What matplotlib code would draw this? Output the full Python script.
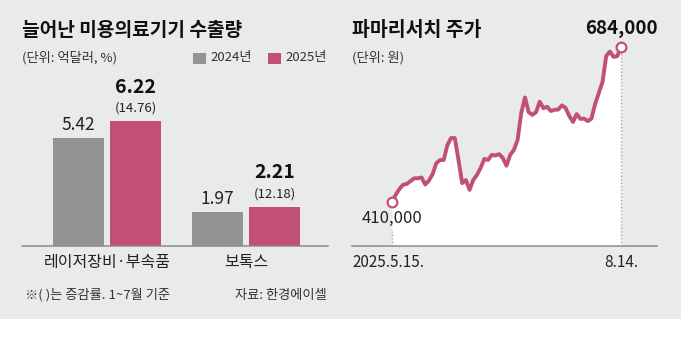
import matplotlib
matplotlib.use('Agg')
import matplotlib.pyplot as plt
from matplotlib.patches import Rectangle
import matplotlib.transforms as mtransforms
import numpy as np

plt.rcParams['font.family'] = ['Noto Sans CJK KR', 'DejaVu Sans']

# bar chart data
categories = ['레이저장비·부속품', '보톡스']
exports_2024 = [5.42, 1.97]
exports_2025 = [6.22, 2.21]
growth_2025 = ['(14.76)', '(12.18)']
legend_labels = ['2024년', '2025년']

# stock price data (daily close, 2025.5.15 ~ 8.14)
price = [410000, 422000, 432500, 440000, 441500, 446500, 451500, 451500, 453000, 440500,
         447500, 459000, 478500, 484000, 484000, 510500, 523000, 523000, 484000, 443000,
         448500, 431000, 448500, 457500, 470000, 486000, 484000, 493000, 492000, 494500,
         487500, 474000, 493000, 502000, 519500, 567500, 595000, 569000, 564000, 569000,
         587500, 576000, 578500, 571000, 573000, 573500, 581000, 576500, 562000, 551500,
         565500, 557000, 557500, 553000, 557500, 583500, 603000, 622500, 668500, 676500,
         667000, 668500, 684000]
date_labels = ['2025.5.15.', '8.14.']

W, H = 681, 351
BG = '#e9eaea'
GRAY = '#939393'
PINK = '#c24f78'
TXT = '#222222'
AXC = '#8c8c8c'

def fx(px):
    return px / W

def fy(py):
    return 1 - py / H

fig = plt.figure(figsize=(W / 100, H / 100), dpi=100, facecolor='white')
fig.patches.append(Rectangle((0, fy(319)), 1, 1 - fy(319), transform=fig.transFigure,
                             facecolor=BG, edgecolor='none', zorder=-10))

# ---------- left: bar chart ----------
base = 245.7
ax1 = fig.add_axes([fx(22), fy(base), fx(306), (base - 70) / H])
ax1.set_facecolor('none')
x = np.arange(len(categories))
bw = 0.367
off = 0.205
b1 = ax1.bar(x - off, exports_2024, bw, color=GRAY, zorder=2)
b2 = ax1.bar(x + off, exports_2025, bw, color=PINK, zorder=2)
ax1.set_xlim(-0.612, 1.59)
ax1.set_ylim(0.376, 8.625)
for s in ['top', 'right', 'left']:
    ax1.spines[s].set_visible(False)
ax1.spines['bottom'].set_color(AXC)
ax1.spines['bottom'].set_linewidth(1.1)
ax1.set_xticks([])
ax1.set_yticks([])

for i in range(len(categories)):
    ax1.annotate(f'{exports_2024[i]:.2f}', (x[i] - off, exports_2024[i]), xytext=(0, 13),
                 textcoords='offset pixels', ha='center', va='center', fontsize=12.5, color=TXT)
    ax1.annotate(f'{exports_2025[i]:.2f}', (x[i] + off, exports_2025[i]), xytext=(0, 34),
                 textcoords='offset pixels', ha='center', va='center', fontsize=14,
                 fontweight='bold', color='#111111')
    ax1.annotate(growth_2025[i], (x[i] + off, exports_2025[i]), xytext=(0, 13),
                 textcoords='offset pixels', ha='center', va='center', fontsize=9.5, color=TXT)
    ax1.annotate(categories[i], (x[i], 0.376), xytext=(0, -17), textcoords='offset pixels',
                 ha='center', va='center', fontsize=11.5, color=TXT)

fig.text(fx(22), fy(31), '늘어난 미용의료기기 수출량', fontsize=13.8, fontweight='bold',
         color='#111111', va='center', ha='left')
fig.text(fx(22), fy(58), '(단위: 억달러, %)', fontsize=9.5, color='#333333', va='center', ha='left')
for lx, c, lab in [(193, GRAY, legend_labels[0]), (268, PINK, legend_labels[1])]:
    fig.patches.append(Rectangle((fx(lx), fy(64)), fx(13), 11 / H, transform=fig.transFigure,
                                 facecolor=c, edgecolor='none'))
    fig.text(fx(lx + 17), fy(58), lab, fontsize=9.5, color='#333333', va='center', ha='left')
fig.text(fx(25), fy(295), '※( )는 증감률. 1~7월 기준', fontsize=9.5, color='#333333',
         va='center', ha='left')
fig.text(fx(327), fy(295), '자료: 한경에이셀', fontsize=9.5, color='#333333',
         va='center', ha='right')

# ---------- right: stock line ----------
ax2 = fig.add_axes([fx(352), fy(base), fx(305), (base - 20) / H])
ax2.set_facecolor('none')
t = np.arange(len(price))
ymin = 331900
ax2.fill_between(t, price, ymin, color='white', zorder=1, linewidth=0)
ax2.plot(t, price, color=PINK, linewidth=2.8, zorder=3, solid_joinstyle='round')
ax2.set_xlim(-10.83, 71.75)
ax2.set_ylim(ymin, 732500)
for s in ['top', 'right', 'left']:
    ax2.spines[s].set_visible(False)
ax2.spines['bottom'].set_color(AXC)
ax2.spines['bottom'].set_linewidth(1.1)
ax2.set_xticks([])
ax2.set_yticks([])

ax2.vlines(t[0], ymin, 358000, colors='#a8a8a8', linestyles=(0, (1, 1.5)), linewidth=1, zorder=2)
ax2.vlines(t[-1], ymin, price[-1], colors='#a8a8a8', linestyles=(0, (1, 1.5)), linewidth=1, zorder=2)
ax2.plot([t[0], t[-1]], [price[0], price[-1]], 'o', ms=7, mfc='white', mec=PINK, mew=1.6,
         zorder=4, linestyle='none')

ax2.annotate(f'{price[0]:,}', (t[0], price[0]), xytext=(0, -17), textcoords='offset pixels',
             ha='center', va='center', fontsize=12, color=TXT)
ax2.annotate(f'{price[-1]:,}', (t[-1], price[-1]), xytext=(0, 19), textcoords='offset pixels',
             ha='center', va='center', fontsize=13.5, fontweight='bold', color='#111111')

trans = mtransforms.blended_transform_factory(ax2.transAxes, ax2.transData)
ax2.annotate(date_labels[0], (0, ymin), xycoords=trans, xytext=(0, -17),
             textcoords='offset pixels', ha='left', va='center', fontsize=11, color=TXT)
ax2.annotate(date_labels[1], (t[-1], ymin), xytext=(0, -17), textcoords='offset pixels',
             ha='center', va='center', fontsize=11, color=TXT)

fig.text(fx(352), fy(30), '파마리서치 주가', fontsize=14, fontweight='bold',
         color='#111111', va='center', ha='left')
fig.text(fx(352), fy(58), '(단위: 원)', fontsize=9.5, color='#333333', va='center', ha='left')

fig.savefig('out.png', dpi=100, facecolor=fig.get_facecolor())
